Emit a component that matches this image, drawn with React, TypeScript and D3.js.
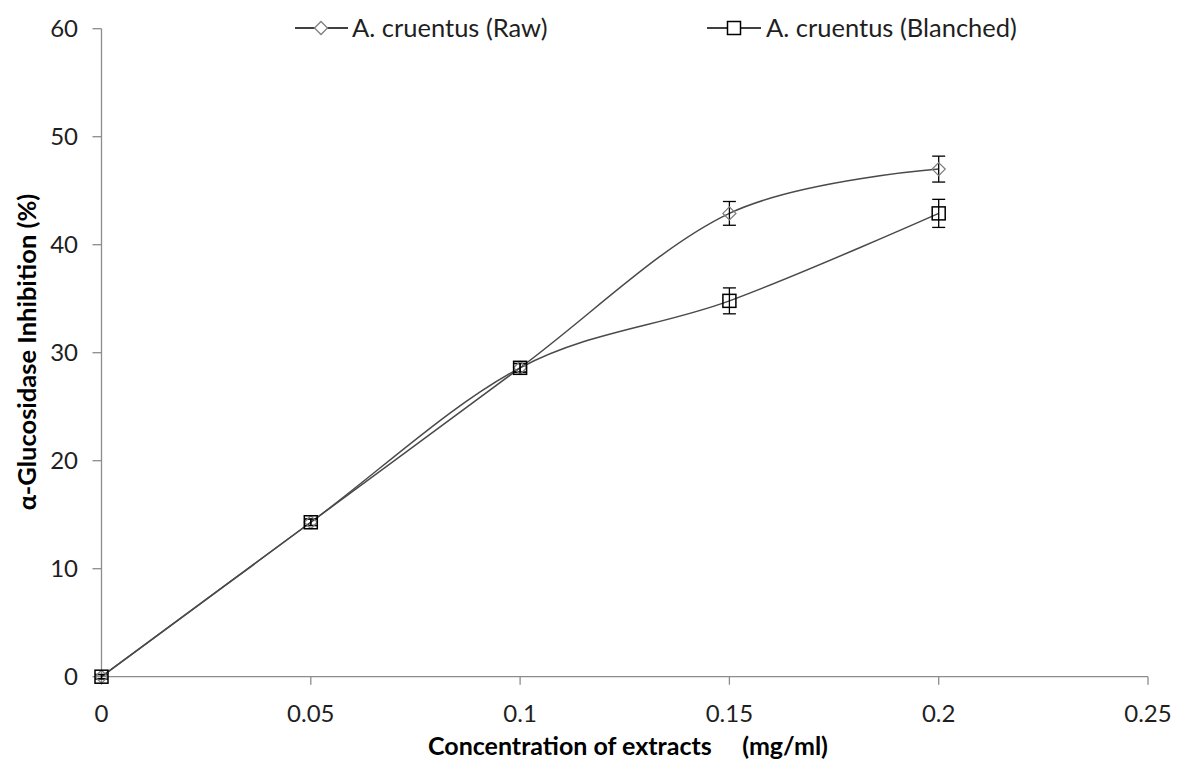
import React from "react";
import * as d3 from "d3";

const concentrations = [0, 0.05, 0.1, 0.15, 0.2];
const rawValues = [0, 14.3, 28.6, 42.9, 47.0];
const rawErrors = [0.2, 0.3, 0.4, 1.1, 1.2];
const blanchedValues = [0, 14.3, 28.6, 34.8, 42.9];
const blanchedErrors = [0.2, 0.3, 0.4, 1.2, 1.3];
const xTicks = [0, 0.05, 0.1, 0.15, 0.2, 0.25];
const yTicks = [0, 10, 20, 30, 40, 50, 60];
const seriesNames = ["A. cruentus (Raw)", "A. cruentus (Blanched)"];

const W = 1182;
const H = 761;
const FONT = "Lato, 'Open Sans', sans-serif";

export default function App() {
  const x = d3.scaleLinear().domain([0, 0.25]).range([101.5, 1148]);
  const y = d3.scaleLinear().domain([0, 60]).range([676.7, 28.7]);
  const line = d3
    .line<[number, number]>()
    .x((d) => x(d[0]))
    .y((d) => y(d[1]))
    .curve(d3.curveCatmullRom.alpha(0));

  const rawPts = concentrations.map((c, i) => [c, rawValues[i]] as [number, number]);
  const blPts = concentrations.map((c, i) => [c, blanchedValues[i]] as [number, number]);

  const axisColor = "#8c8c8c";
  const lineColor = "#4a4a4a";

  const diamond = (cx: number, cy: number, r = 6.5) =>
    `M${cx},${cy - r}L${cx + r},${cy}L${cx},${cy + r}L${cx - r},${cy}Z`;

  const errBar = (c: number, v: number, e: number, key: string) => {
    const cx = x(c);
    const t = y(v + e);
    const b = y(v - e);
    return (
      <g key={key} stroke="#000" strokeWidth={1.3}>
        <line x1={cx} x2={cx} y1={t} y2={b} />
        <line x1={cx - 6.5} x2={cx + 6.5} y1={t} y2={t} />
        <line x1={cx - 6.5} x2={cx + 6.5} y1={b} y2={b} />
      </g>
    );
  };

  return (
    <svg
      width={W}
      height={H}
      style={{ position: "absolute", left: 0, top: 0, background: "#fff" }}
      fontFamily={FONT}
    >
      {/* axes */}
      <line x1={x(0)} x2={x(0)} y1={y(60)} y2={y(0)} stroke={axisColor} strokeWidth={1.3} />
      <line x1={x(0)} x2={x(0.25)} y1={y(0)} y2={y(0)} stroke={axisColor} strokeWidth={1.3} />
      {yTicks.map((t) => (
        <g key={"yt" + t}>
          <line x1={x(0) - 9} x2={x(0)} y1={y(t)} y2={y(t)} stroke={axisColor} strokeWidth={1.3} />
          <text x={78} y={y(t)} dy="0.35em" textAnchor="end" fontSize={24} fill="#1f1f1f">
            {t}
          </text>
        </g>
      ))}
      {xTicks.map((t) => (
        <g key={"xt" + t}>
          <line x1={x(t)} x2={x(t)} y1={y(0)} y2={y(0) + 8} stroke={axisColor} strokeWidth={1.3} />
          <text x={x(t)} y={714} dy="0.35em" textAnchor="middle" fontSize={24} fill="#1f1f1f">
            {t}
          </text>
        </g>
      ))}
      <text
        x={428}
        y={746}
        dy="0.35em"
        textAnchor="start"
        fontSize={25}
        fontWeight="bold"
        fill="#000"
        style={{ whiteSpace: "pre" }}
      >
        {"Concentration of extracts     (mg/ml)"}
      </text>
      <text
        transform={`translate(27,352) rotate(-90)`}
        dy="0.35em"
        textAnchor="middle"
        fontSize={25.5}
        fontWeight="bold"
        fill="#000"
      >
        α-Glucosidase Inhibition (%)
      </text>

      {/* lines */}
      <path d={line(rawPts) || ""} fill="none" stroke={lineColor} strokeWidth={1.5} />
      <path d={line(blPts) || ""} fill="none" stroke={lineColor} strokeWidth={1.5} />

      {/* error bars */}
      {concentrations.map((c, i) => errBar(c, rawValues[i], rawErrors[i], "er" + i))}
      {concentrations.map((c, i) => errBar(c, blanchedValues[i], blanchedErrors[i], "eb" + i))}

      {/* markers */}
      {rawPts.map((p, i) => (
        <path key={"rm" + i} d={diamond(x(p[0]), y(p[1]))} fill="none" stroke="#7f7f7f" strokeWidth={1.3} />
      ))}
      {blPts.map((p, i) => (
        <rect
          key={"bm" + i}
          x={x(p[0]) - 6.5}
          y={y(p[1]) - 6.5}
          width={13}
          height={13}
          fill="none"
          stroke="#000"
          strokeWidth={1.5}
        />
      ))}

      {/* legend */}
      <g>
        <line x1={295} x2={348} y1={28} y2={28} stroke="#000" strokeWidth={1.3} />
        <path d={diamond(321, 28)} fill="#fff" stroke="#7f7f7f" strokeWidth={1.3} />
        <text x={352} y={28} dy="0.35em" fontSize={25.5} fill="#1f1f1f">
          {seriesNames[0]}
        </text>
        <line x1={707} x2={761} y1={28} y2={28} stroke="#000" strokeWidth={1.3} />
        <rect x={734 - 6.5} y={28 - 6.5} width={13} height={13} fill="#fff" stroke="#000" strokeWidth={1.5} />
        <text x={766} y={28} dy="0.35em" fontSize={25.5} fill="#1f1f1f">
          {seriesNames[1]}
        </text>
      </g>
    </svg>
  );
}
